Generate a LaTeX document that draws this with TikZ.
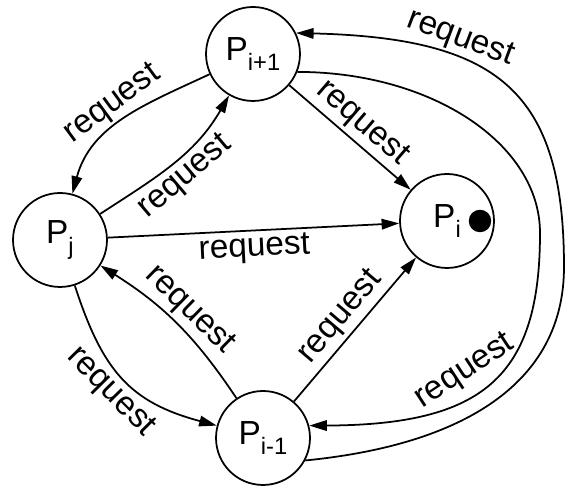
\documentclass[tikz,border=0pt]{standalone}
\usepackage{fontspec}
\setmainfont{Liberation Sans}
\usetikzlibrary{arrows.meta}

% process name with a lowered, smaller index
\newcommand{\pname}[1]{P\raisebox{-0.32em}{\fontsize{13.5}{15}\selectfont #1}}

\begin{document}
\begin{tikzpicture}[x=0.02cm, y=0.02cm, line width=1pt,
    font=\fontsize{19}{22}\selectfont,
    site/.style={draw, circle, minimum size=1.88cm, inner sep=0pt},
    msg/.style={-{Triangle[length=10pt, width=6pt]}},
    lbl/.style={sloped, inner sep=2pt}]
\useasboundingbox (0,0) rectangle (565,489);

% processes
\node[site] (Pip1) at (253,435) {\pname{i+1}};
\node[site] (Pj)   at (60,249)  {\pname{j}};
\node[site] (Pi)   at (447,268) {\pname{i}};
\node[site] (Pim1) at (263,51)  {\pname{i-1}};
\node[circle, fill, minimum size=0.45cm, inner sep=0pt] (tok) at (480,268) {};

% requests between neighbours
\draw[msg] (Pip1) to[out=205, in=75] node[lbl, above] (r1) {request} (Pj);
\draw[msg] (Pj) to[out=33, in=240] node[lbl, below] (r2) {request} (Pip1);
\draw[msg] (Pip1) -- node[lbl, above] (r3) {request} (Pi);
\draw[msg] (Pj) -- node[lbl, below] (r4) {request} (Pi);
\draw[msg] (Pim1) to[bend right=12] node[lbl, above] (r5) {request} (Pj);
\draw[msg] (Pj) to[out=-72, in=165, looseness=1.15] node[lbl, below] (r6) {request} (Pim1);
\draw[msg] (Pim1) -- node[lbl, above] (r7) {request} (Pi);

% the two long ways round
\draw[msg] (Pip1.-22) .. controls (432,417) and (540,345) .. (540,256)
    .. controls (540,112) and (483,64) .. (Pim1.15)
    node[lbl, above, pos=0.55, inner sep=5pt] (r8) {request};
\draw[msg] (Pim1.-28) .. controls (462,44) and (564,105) .. (564,222)
    .. controls (564,398) and (498,451) .. (Pip1.26)
    node[lbl, above, pos=0.67] (r9) {request};
\end{tikzpicture}
\end{document}
